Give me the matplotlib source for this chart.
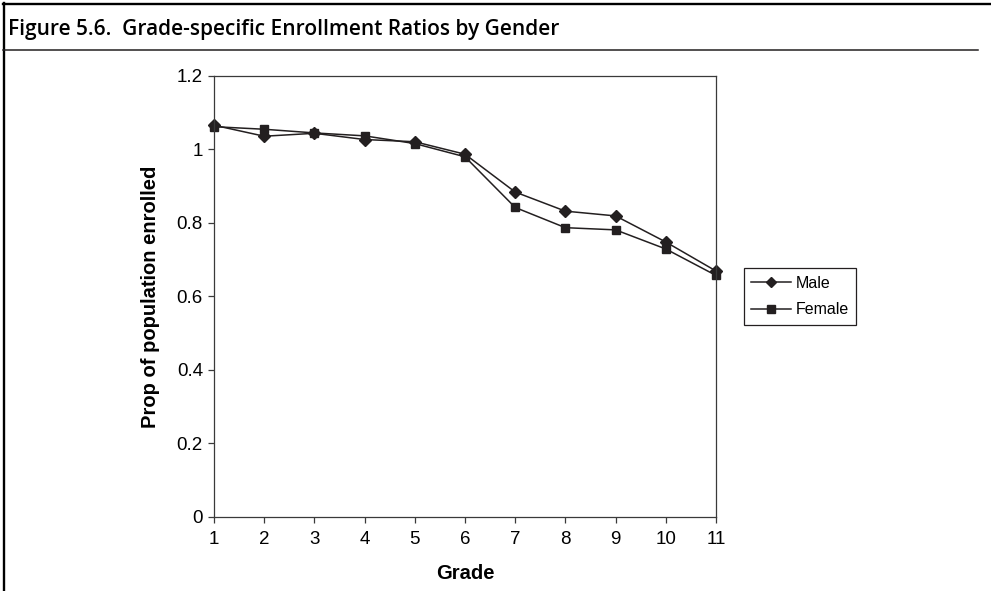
import matplotlib
matplotlib.use("Agg")
import matplotlib.pyplot as plt
from matplotlib.lines import Line2D

grades = [1, 2, 3, 4, 5, 6, 7, 8, 9, 10, 11]
male = [1.066, 1.036, 1.044, 1.027, 1.021, 0.987, 0.884, 0.832, 0.819, 0.748, 0.669]
female = [1.062, 1.055, 1.045, 1.037, 1.016, 0.980, 0.842, 0.787, 0.781, 0.729, 0.657]
yticks = [0, 0.2, 0.4, 0.6, 0.8, 1, 1.2]
ytick_labels = ["0", "0.2", "0.4", "0.6", "0.8", "1", "1.2"]

title = "Figure 5.6.  Grade-specific Enrollment Ratios by Gender"
ink = "#231f20"

W, H = 991, 591
fig = plt.figure(figsize=(W / 100, H / 100), dpi=100)

def fx(px):
    return px / W

def fy(py):
    return 1 - py / H

# page frame and title rule
fig.add_artist(Line2D([fx(3.5), fx(3.5)], [0, fy(2.5)], color="black", lw=1.7))
fig.add_artist(Line2D([fx(2.7), 1.0], [fy(3.5), fy(3.5)], color="black", lw=1.7))
fig.add_artist(Line2D([fx(2.7), fx(978)], [fy(49.5), fy(49.5)], color=ink, lw=1.1))
fig.text(fx(8), fy(29), title, fontsize=15, fontweight="semibold",
         family="Open Sans", color="black", va="center", ha="left")

ax = fig.add_axes([fx(214), fy(516.7), fx(716) - fx(214), fy(76) - fy(516.7)])
ax.plot(grades, male, color=ink, lw=1.1, marker="D", markersize=6.3,
        markerfacecolor=ink, markeredgecolor=ink, label="Male", clip_on=False)
ax.plot(grades, female, color=ink, lw=1.1, marker="s", markersize=6.3,
        markerfacecolor=ink, markeredgecolor=ink, label="Female", clip_on=False)

ax.set_xlim(1, 11)
ax.set_ylim(0, 1.2)
ax.set_xticks(grades)
ax.set_yticks(yticks)
ax.set_yticklabels(ytick_labels)
for s in ax.spines.values():
    s.set_color("#3a3a3a")
    s.set_linewidth(0.9)
ax.tick_params(direction="out", length=4, width=0.9, color="#3a3a3a",
               labelsize=13.5, labelcolor="black")
ax.tick_params(axis="x", pad=6)
ax.tick_params(axis="y", pad=4)
for lab in ax.get_xticklabels() + ax.get_yticklabels():
    lab.set_family("Liberation Sans")

ax.set_xlabel("Grade", fontsize=14.5, fontweight="bold", family="Liberation Sans", labelpad=12)
ax.set_ylabel("Prop of population enrolled", fontsize=14.5, fontweight="bold",
              family="Liberation Sans", labelpad=12)

leg = ax.legend(loc="center left", bbox_to_anchor=((744 - 214) / (716 - 214), (516.7 - 296.5) / (516.7 - 76)),
                frameon=True, fancybox=False, edgecolor=ink, framealpha=1,
                prop={"family": "Liberation Sans", "size": 11.5},
                handlelength=2.5, handletextpad=0.3, borderpad=0.45, labelspacing=0.75,
                borderaxespad=0)
leg.get_frame().set_linewidth(0.9)
for h in leg.legend_handles:
    h.set_markersize(5.5)

fig.savefig("out.png", dpi=100)
